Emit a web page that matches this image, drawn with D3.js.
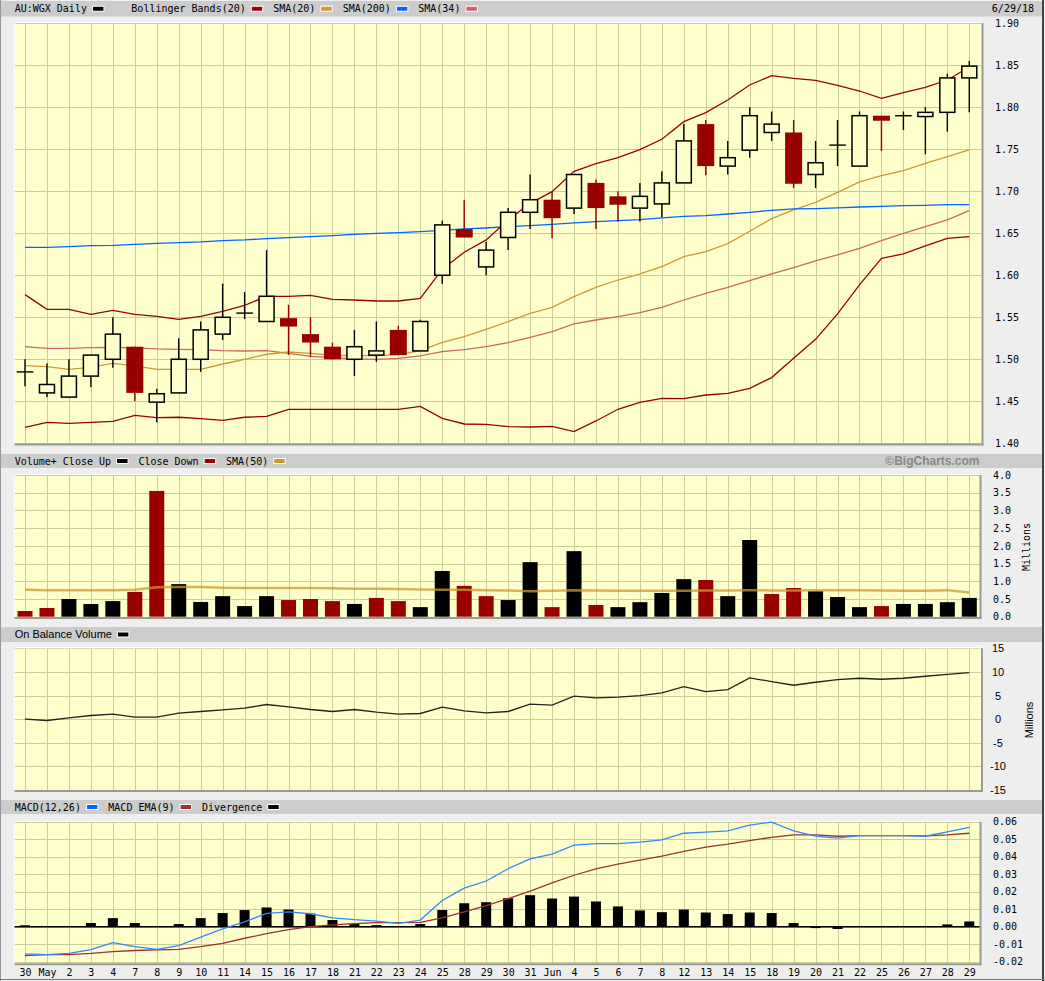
<!DOCTYPE html>
<html><head><meta charset="utf-8">
<script src="https://cdn.jsdelivr.net/npm/d3@7"></script>
<style>
body{margin:0;background:#eeeeee;}
svg{display:block;}
text{font-family:"DejaVu Sans Mono",monospace;font-size:10px;fill:#000;}
</style>
</head><body>
<svg id="c" width="1045" height="981"></svg>
<script>
// ---------------- DATA ----------------
const dates = ["2018-04-30","2018-05-01","2018-05-02","2018-05-03","2018-05-04","2018-05-07","2018-05-08","2018-05-09","2018-05-10","2018-05-11","2018-05-14","2018-05-15","2018-05-16","2018-05-17","2018-05-18","2018-05-21","2018-05-22","2018-05-23","2018-05-24","2018-05-25","2018-05-28","2018-05-29","2018-05-30","2018-05-31","2018-06-01","2018-06-04","2018-06-05","2018-06-06","2018-06-07","2018-06-08","2018-06-12","2018-06-13","2018-06-14","2018-06-15","2018-06-18","2018-06-19","2018-06-20","2018-06-21","2018-06-22","2018-06-25","2018-06-26","2018-06-27","2018-06-28","2018-06-29"];
const tickLabels = ["30","May","2","3","4","7","8","9","10","11","14","15","16","17","18","21","22","23","24","25","28","29","30","31","Jun","4","5","6","7","8","12","13","14","15","18","19","20","21","22","25","26","27","28","29"];

const open  = [1.485,1.46,1.455,1.48,1.50,1.515,1.449,1.46,1.50,1.53,1.555,1.545,1.549,1.53,1.515,1.50,1.505,1.535,1.51,1.60,1.655,1.61,1.645,1.675,1.69,1.68,1.71,1.694,1.68,1.685,1.71,1.78,1.73,1.749,1.77,1.77,1.72,1.755,1.73,1.79,1.79,1.789,1.794,1.835];
const high  = [1.50,1.495,1.50,1.505,1.55,1.515,1.465,1.525,1.545,1.59,1.58,1.63,1.565,1.55,1.52,1.535,1.545,1.54,1.547,1.665,1.69,1.64,1.68,1.72,1.70,1.72,1.714,1.70,1.71,1.724,1.78,1.785,1.76,1.80,1.795,1.785,1.76,1.785,1.795,1.79,1.795,1.80,1.84,1.855];
const low   = [1.468,1.455,1.455,1.467,1.49,1.45,1.425,1.46,1.485,1.523,1.548,1.545,1.505,1.503,1.50,1.48,1.497,1.505,1.51,1.59,1.645,1.60,1.63,1.655,1.644,1.673,1.655,1.664,1.664,1.669,1.71,1.719,1.72,1.74,1.76,1.704,1.704,1.73,1.73,1.748,1.773,1.744,1.771,1.794];
const close = [1.485,1.47,1.48,1.505,1.53,1.46,1.459,1.50,1.535,1.55,1.555,1.575,1.539,1.52,1.50,1.515,1.51,1.505,1.545,1.66,1.645,1.63,1.675,1.69,1.668,1.72,1.68,1.684,1.694,1.71,1.76,1.73,1.74,1.79,1.78,1.709,1.734,1.755,1.79,1.784,1.79,1.794,1.835,1.849];

const bbUpper = [1.577,1.5595,1.5595,1.5536,1.5583,1.5536,1.5512,1.5476,1.5512,1.5571,1.5643,1.575,1.575,1.5762,1.5714,1.5706,1.5694,1.5694,1.5726,1.6071,1.6274,1.6421,1.6659,1.6857,1.6996,1.7238,1.7329,1.7401,1.7496,1.7619,1.7829,1.7937,1.8087,1.8266,1.8377,1.8345,1.8321,1.8262,1.8194,1.8107,1.8175,1.8238,1.8325,1.848];
const bbLower = [1.419,1.425,1.4238,1.425,1.4262,1.4333,1.4306,1.431,1.4294,1.4274,1.431,1.4321,1.4405,1.4405,1.4405,1.4405,1.4405,1.4405,1.444,1.4298,1.423,1.4226,1.4198,1.4194,1.4202,1.4139,1.4266,1.4405,1.4488,1.4536,1.4532,1.4575,1.4595,1.4655,1.4782,1.5012,1.5238,1.554,1.5885,1.6202,1.6254,1.6349,1.644,1.646];
const sma20 = [1.4925,1.4913,1.4881,1.4905,1.4952,1.4921,1.4881,1.4881,1.4881,1.4944,1.50,1.506,1.5087,1.5071,1.5048,1.5044,1.5044,1.5056,1.5103,1.5202,1.527,1.5357,1.5448,1.5548,1.5619,1.5746,1.5857,1.5944,1.6016,1.6103,1.6222,1.6282,1.6377,1.6524,1.6675,1.6778,1.6869,1.6988,1.7111,1.7187,1.7246,1.7333,1.7413,1.7492];
const sma200 = [1.6333,1.6333,1.6341,1.6353,1.6357,1.6369,1.6381,1.6389,1.6397,1.6413,1.6421,1.6437,1.6448,1.646,1.6472,1.6488,1.65,1.6508,1.652,1.6536,1.6552,1.6563,1.6579,1.6591,1.6607,1.6623,1.6639,1.6651,1.6663,1.6683,1.6702,1.671,1.673,1.675,1.6774,1.679,1.6794,1.6802,1.6813,1.6821,1.6829,1.6833,1.6841,1.6841];
const sma34 = [1.5151,1.5131,1.5131,1.5139,1.5143,1.5135,1.5123,1.5119,1.5115,1.5103,1.5099,1.5103,1.5071,1.5036,1.502,1.5004,1.50,1.5012,1.504,1.5091,1.5115,1.5151,1.5198,1.5262,1.533,1.5421,1.5468,1.5508,1.5556,1.5619,1.5706,1.5786,1.5857,1.5937,1.6016,1.6091,1.6171,1.6242,1.6321,1.6413,1.65,1.6579,1.6659,1.677];

const volume = [0.16,0.245,0.50,0.358,0.44,0.70,3.55,0.92,0.414,0.58,0.30,0.58,0.47,0.50,0.44,0.36,0.53,0.44,0.27,1.29,0.87,0.58,0.47,1.54,0.27,1.85,0.33,0.27,0.41,0.67,1.06,1.035,0.58,2.165,0.64,0.81,0.72,0.555,0.27,0.30,0.36,0.36,0.41,0.53];
const volumeUp = [0,0,1,1,1,0,0,1,1,1,1,1,0,0,0,1,0,0,1,1,0,0,1,1,0,1,0,1,1,1,1,0,1,1,0,0,1,1,1,0,1,1,1,1];
const volSma50 = [0.76,0.75,0.75,0.75,0.75,0.76,0.83,0.84,0.84,0.82,0.81,0.81,0.81,0.81,0.80,0.79,0.79,0.78,0.77,0.76,0.76,0.75,0.74,0.72,0.73,0.75,0.74,0.73,0.73,0.73,0.73,0.74,0.74,0.75,0.74,0.74,0.75,0.75,0.75,0.74,0.73,0.73,0.75,0.68];

const obv = [0,-0.28,0.28,0.77,1.06,0.42,0.42,1.27,1.62,1.97,2.32,3.1,2.6,2.04,1.62,2.04,1.48,1.06,1.2,2.53,1.76,1.34,1.62,3.17,2.96,4.86,4.5,4.65,5.0,5.56,6.9,5.84,6.27,8.73,7.96,7.18,7.81,8.38,8.66,8.45,8.66,9.08,9.5,9.86];

const macd = [-0.0155,-0.0159,-0.0153,-0.0131,-0.0091,-0.0114,-0.0129,-0.0108,-0.0059,-0.0013,0.0028,0.0076,0.0085,0.0074,0.0051,0.004,0.0032,0.0019,0.0038,0.015,0.022,0.0261,0.0331,0.0388,0.0415,0.0466,0.0475,0.0475,0.0483,0.0496,0.0534,0.054,0.0547,0.0581,0.0597,0.0547,0.0517,0.0506,0.0521,0.0521,0.0521,0.0517,0.0542,0.0568];
const macdEma = [-0.0165,-0.0159,-0.0159,-0.0153,-0.0142,-0.0136,-0.0133,-0.0129,-0.0114,-0.0095,-0.0066,-0.004,-0.0017,0,0.0011,0.0017,0.0023,0.0023,0.0025,0.0051,0.0085,0.0121,0.0161,0.0203,0.025,0.0294,0.0331,0.0358,0.0381,0.0403,0.043,0.0455,0.0472,0.0492,0.0511,0.0525,0.0525,0.0517,0.0521,0.0521,0.0521,0.0519,0.0525,0.0534];
const divergence = [0.0008,0,0,0.0021,0.0049,0.0021,0,0.0015,0.0049,0.0078,0.0095,0.011,0.0098,0.0074,0.0038,0.0015,0.0009,0,0.0015,0.0095,0.0134,0.014,0.0163,0.018,0.0161,0.0172,0.0144,0.0116,0.0093,0.0083,0.0098,0.0081,0.0072,0.0081,0.0078,0.0021,-0.0008,-0.0013,0,0,0,0,0.0013,0.003];

// ---------------- CHART ----------------
const W = 1045, H = 981;
const BG = "#ffffcc", GRID = "#cccc99";
const RED = "#990000", GOLD = "#cc9933", BLUE = "#0066ff", PINK = "#cc6666";
const svg = d3.select("#c");
svg.append("rect").attr("width", W).attr("height", H).attr("fill", "#eeeeee");

const x = d3.scalePoint().domain(dates).range([25, 969.3]);
const xi = i => x(dates[i]);

function header(yTop, yBot, items, firstGap, rightText, rightBold) {
  svg.append("rect").attr("x", 1).attr("y", yTop).attr("width", 1041).attr("height", yBot - yTop).attr("fill", "#cccccc");
  const cy = (yTop + yBot) / 2;
  let cx = 14.7;
  items.forEach((it, k) => {
    const t = svg.append("text").attr("x", cx).attr("y", cy).attr("dy", "0.35em").text(it.text);
    if (it.font) t.style("font-family", it.font).style("font-size", it.size);
    const w = t.node().getComputedTextLength();
    cx += w + 5.5;
    svg.append("rect").attr("x", cx).attr("y", cy - 2.5).attr("width", 11.5).attr("height", 5)
      .attr("fill", it.color).attr("stroke", "#ffffff").attr("stroke-width", 1);
    cx += 11.5 + (k === 0 && firstGap ? firstGap : 10.4);
  });
  if (rightText) {
    const t = svg.append("text").attr("x", rightText.x).attr("y", cy).attr("dy", "0.35em")
      .attr("text-anchor", "end").text(rightText.text);
    if (rightBold) t.style("font-family", "'Liberation Sans',Arial,sans-serif").style("font-size", "12px")
      .style("font-weight", "bold").style("fill", "#888888");
  }
}

function plotFrame(L, R, T, B, y, ticks) {
  const g = svg.append("g");
  g.append("rect").attr("x", L).attr("y", T).attr("width", R - L).attr("height", B - T).attr("fill", BG);
  g.selectAll(null).data(ticks).enter().append("line")
    .attr("x1", L).attr("x2", R).attr("y1", d => Math.round(y(d)) + 0.5).attr("y2", d => Math.round(y(d)) + 0.5)
    .attr("stroke", GRID).attr("stroke-width", 1);
  g.selectAll(null).data(dates).enter().append("line")
    .attr("x1", d => Math.round(x(d)) + 0.5).attr("x2", d => Math.round(x(d)) + 0.5)
    .attr("y1", T).attr("y2", B).attr("stroke", GRID).attr("stroke-width", 1);
  g.append("line").attr("x1", L).attr("x2", R).attr("y1", T - 0.5).attr("y2", T - 0.5).attr("stroke", "#ffffff");
  g.append("line").attr("x1", L - 0.5).attr("x2", L - 0.5).attr("y1", T).attr("y2", B).attr("stroke", "#ffffff");
  g.append("line").attr("x1", L).attr("x2", R + 2).attr("y1", B + 1).attr("y2", B + 1).attr("stroke", "#999999").attr("stroke-width", 2);
  g.append("line").attr("x1", R + 1).attr("x2", R + 1).attr("y1", T).attr("y2", B + 2).attr("stroke", "#999999").attr("stroke-width", 2);
  return g;
}

function yAxis(y, ticks, fmt, xPos, anchor) {
  const ax = d3.axisRight(y).tickValues(ticks).tickFormat(fmt).tickSize(0).tickPadding(0);
  const g = svg.append("g").attr("transform", `translate(${xPos},0)`).call(ax);
  g.select(".domain").remove();
  g.selectAll("text").style("font-family", "'DejaVu Sans Mono',monospace").style("font-size", "10px")
    .attr("text-anchor", anchor || "start").attr("fill", "#000");
  return g;
}

const lineGen = (y) => d3.line().x((d, i) => xi(i)).y(d => y(d));

// ================= PRICE PANEL =================
header(1, 16.5, [
  {text: "AU:WGX Daily", color: "#000000"},
  {text: "Bollinger Bands(20)", color: RED},
  {text: "SMA(20)", color: GOLD},
  {text: "SMA(200)", color: BLUE},
  {text: "SMA(34)", color: PINK}
], 27.4, {x: 1034, text: "6/29/18"});

const yP = d3.scaleLinear().domain([1.40, 1.90]).range([443.3, 23.3]);
const pTicks = yP.ticks(10);
plotFrame(14.5, 981.5, 23, 443.5, yP, pTicks);
yAxis(yP, pTicks, d => d.toFixed(2), 995);

const pg = svg.append("g");
[[sma34, PINK], [sma20, GOLD], [sma200, BLUE], [bbUpper, RED], [bbLower, RED]].forEach(([arr, col]) => {
  pg.append("path").datum(arr).attr("d", lineGen(yP)).attr("fill", "none").attr("stroke", col).attr("stroke-width", 1.3);
});

const candles = dates.map((d, i) => ({d, o: open[i], h: high[i], l: low[i], c: close[i]}));
const cg = svg.append("g");
candles.forEach(k => {
  const cx = x(k.d);
  const up = k.c >= k.o;
  const doji = Math.abs(k.c - k.o) < 0.0015;
  const col = (up || doji) ? "#000" : RED;
  cg.append("line").attr("x1", cx).attr("x2", cx).attr("y1", yP(k.h)).attr("y2", yP(k.l))
    .attr("stroke", col).attr("stroke-width", 1.4);
  if (doji) {
    cg.append("line").attr("x1", cx - 8.3).attr("x2", cx + 8.3).attr("y1", yP(k.c)).attr("y2", yP(k.c))
      .attr("stroke", "#000").attr("stroke-width", 1.4);
  } else if (up) {
    cg.append("rect").attr("x", cx - 7.5).attr("y", yP(k.c)).attr("width", 15).attr("height", yP(k.o) - yP(k.c))
      .attr("fill", BG).attr("stroke", "#000").attr("stroke-width", 1.5);
  } else {
    cg.append("rect").attr("x", cx - 8.5).attr("y", yP(k.o)).attr("width", 17).attr("height", Math.max(2, yP(k.c) - yP(k.o)))
      .attr("fill", RED);
  }
});

// ================= VOLUME PANEL =================
header(454, 468, [
  {text: "Volume+ Close Up", color: "#000000"},
  {text: "Close Down", color: RED},
  {text: "SMA(50)", color: GOLD}
], null, {x: 979.5, text: "\u00A9BigCharts.com"}, true);

const yV = d3.scaleLinear().domain([0, 4]).range([616.7, 475]);
const vTicks = yV.ticks(8);
plotFrame(14.5, 979.5, 475, 617, yV, vTicks);
yAxis(yV, vTicks, d => d.toFixed(1), 993);
svg.append("g").selectAll("rect").data(volume).enter().append("rect")
  .attr("x", (d, i) => xi(i) - 7.5).attr("width", 15)
  .attr("y", d => yV(d)).attr("height", d => yV(0) - yV(d))
  .attr("fill", (d, i) => volumeUp[i] ? "#000" : RED);
svg.append("path").datum(volSma50).attr("d", lineGen(yV)).attr("fill", "none")
  .attr("stroke", GOLD).attr("stroke-width", 2.5).attr("stroke-opacity", 0.75);
svg.append("text").attr("transform", "translate(1030,547) rotate(-90)").attr("text-anchor", "middle").text("Millions");

// ================= OBV PANEL =================
header(627, 642, [
  {text: "On Balance Volume", color: "#000000", font: "'Liberation Sans',Arial,sans-serif", size: "11px"}
], null, null);

const yO = d3.scaleLinear().domain([-15, 15]).range([790, 648.3]);
const oTicks = yO.ticks(6);
plotFrame(14.5, 981, 648.3, 790, yO, oTicks);
const oAx = yAxis(yO, oTicks, d => String(d), 998, "middle");
oAx.selectAll("text").style("font-family", "'Liberation Sans',Arial,sans-serif").style("font-size", "11px");
svg.append("path").datum(obv).attr("d", lineGen(yO)).attr("fill", "none").attr("stroke", "#222").attr("stroke-width", 1.3);
svg.append("text").attr("transform", "translate(1033,720) rotate(-90)").attr("text-anchor", "middle")
  .style("font-family", "'Liberation Sans',Arial,sans-serif").style("font-size", "11px").text("Millions");

// ================= MACD PANEL =================
header(800, 814, [
  {text: "MACD(12,26)", color: BLUE},
  {text: "MACD EMA(9)", color: "#993333"},
  {text: "Divergence", color: "#000000"}
], null, null);

const yM = d3.scaleLinear().domain([-0.02, 0.06]).range([961.7, 821.7]);
const mTicks = yM.ticks(8);
plotFrame(14.5, 979.5, 821.7, 963.3, yM, mTicks);
yAxis(yM, mTicks, d => d.toFixed(2), 993);
svg.append("g").selectAll("rect").data(divergence).enter().append("rect")
  .attr("x", (d, i) => xi(i) - 5).attr("width", 10)
  .attr("y", d => Math.min(yM(d), yM(0))).attr("height", d => Math.abs(yM(0) - yM(d)))
  .attr("fill", "#000");
svg.append("line").attr("x1", 14.5).attr("x2", 979.5).attr("y1", yM(0)).attr("y2", yM(0)).attr("stroke", "#000").attr("stroke-width", 1.5);
svg.append("path").datum(macdEma).attr("d", lineGen(yM)).attr("fill", "none").attr("stroke", "#993333").attr("stroke-width", 1.3);
svg.append("path").datum(macd).attr("d", lineGen(yM)).attr("fill", "none").attr("stroke", "#3388ff").attr("stroke-width", 1.3);

// x axis labels
const xAx = d3.axisBottom(x).tickFormat((d, i) => tickLabels[i]).tickSize(0).tickPadding(0);
const xg = svg.append("g").attr("transform", "translate(0,972)").call(xAx);
xg.select(".domain").remove();
xg.selectAll("text").attr("dy", "0.35em").attr("y", 0).style("font-family", "'DejaVu Sans Mono',monospace").style("font-size", "10px").attr("fill", "#000");

// outer borders
svg.append("line").attr("x1", 0.5).attr("x2", 0.5).attr("y1", 0).attr("y2", H).attr("stroke", "#999999");
svg.append("line").attr("x1", 1043).attr("x2", 1043).attr("y1", 0).attr("y2", H).attr("stroke", "#444444").attr("stroke-width", 2);
svg.append("line").attr("x1", 0).attr("x2", W).attr("y1", 979.5).attr("y2", 979.5).attr("stroke", "#777777");
</script>
</body></html>
